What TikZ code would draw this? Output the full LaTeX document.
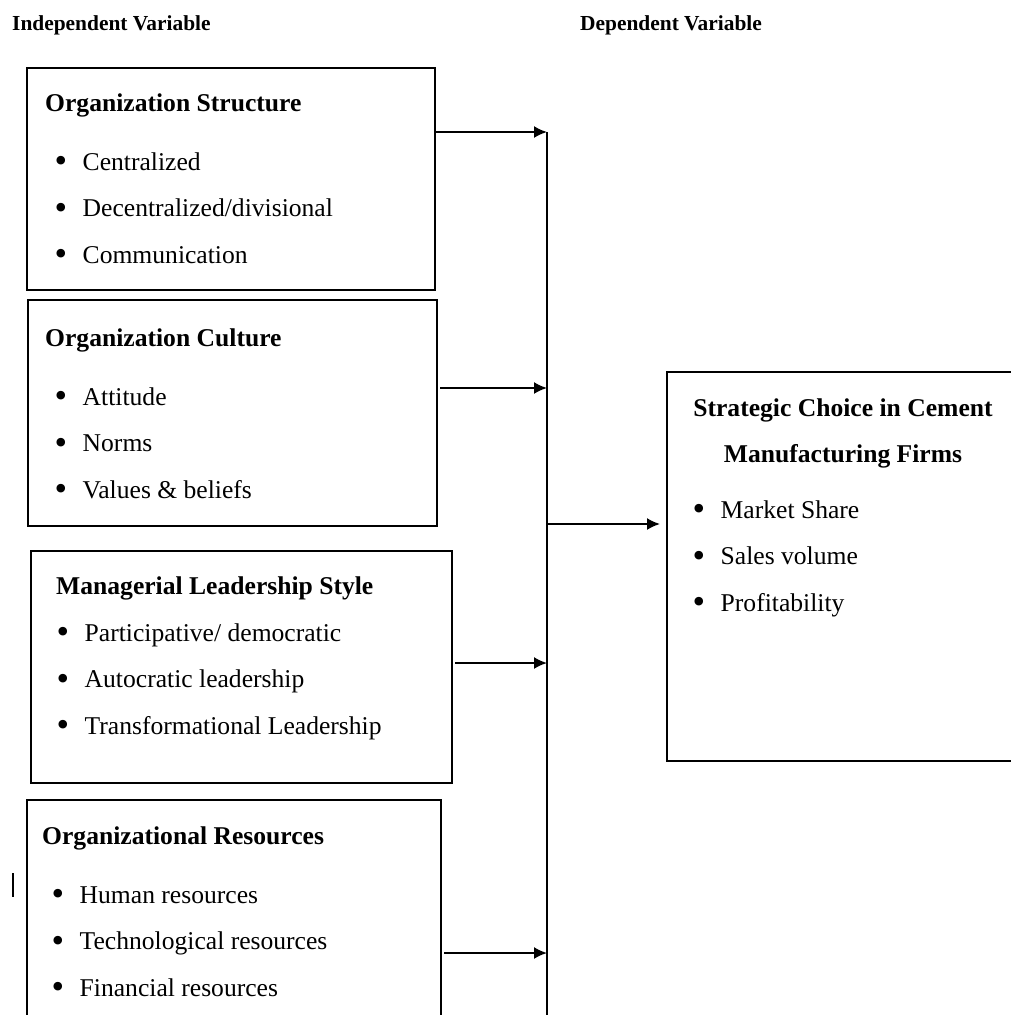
\documentclass[tikz,border=0pt]{standalone}
\usepackage{fontspec}
\setmainfont{Liberation Serif}
\usetikzlibrary{arrows.meta, math}
\tikzset{
box/.style={draw, line width=1.8pt, inner sep=0, outer sep=0, anchor=north west},
body/.style={font=\fontsize{25.6}{46.5}\selectfont, align=left, anchor=base west, inner sep=0},
boxtitle/.style={font=\fontsize{25.6}{46}\selectfont\bfseries, align=center, anchor=base, inner sep=0},
head/.style={font=\fontsize{21.4}{26}\selectfont\bfseries, anchor=base west, inner sep=0},
arr/.style={-{Latex[length=13pt,width=12pt]}, line width=1.8pt, shorten <=3pt},
}
\newcommand{\bitem}[2][10.5pt]{\hspace*{#1}\makebox[27pt][l]{\hspace*{-1pt}\raisebox{-2.6pt}{\scalebox{1.4}{\textbullet}}}#2}

\begin{document}
\begin{tikzpicture}[x=1pt, y=-1pt]
\tikzmath{
\busx=547;
}
\useasboundingbox (0,0) rectangle (1011,1015);

\node[head] (indep) at (12,30) {Independent Variable};
\node[head] (dep) at (580,30) {Dependent Variable};

% boxes are placed at their top-left corner, texts at the baseline of their last line
\node[box, minimum width=408pt, minimum height=222pt] (orgstruct) at (27,68) {};
\node[body] (orgstructtxt) at (45,263) {\textbf{Organization Structure}\\[12pt]
  \bitem{Centralized}\\ \bitem{Decentralized/divisional}\\ \bitem{Communication}};

\node[box, minimum width=409pt, minimum height=226pt] (orgculture) at (28,300) {};
\node[body] (orgculturetxt) at (45,498) {\textbf{Organization Culture}\\[12pt]
  \bitem{Attitude}\\ \bitem{Norms}\\ \bitem{Values \& beliefs}};

\node[box, minimum width=421pt, minimum height=232pt] (leadership) at (31,551) {};
\node[body] (leadershiptxt) at (56,734) {\textbf{Managerial Leadership Style}\\
  \bitem[1.5pt]{Participative/ democratic}\\ \bitem[1.5pt]{Autocratic leadership}\\ \bitem[1.5pt]{Transformational Leadership}};

\node[box, minimum width=414pt, minimum height=240pt] (resources) at (27,800) {};
\node[body] (resourcestxt) at (42,996) {\textbf{Organizational Resources}\\[12pt]
  \bitem{Human resources}\\ \bitem{Technological resources}\\ \bitem{Financial resources}};

\node[box, minimum width=373pt, minimum height=389pt] (choice) at (667,372) {};
\node[boxtitle] (choicetitle) at (843,462) {Strategic Choice in Cement\\Manufacturing Firms};
\node[body] (choicetxt) at (693.5,611) {\bitem[0pt]{Market Share}\\ \bitem[0pt]{Sales volume}\\ \bitem[0pt]{Profitability}};

\coordinate (bustop) at (\busx,132);
\coordinate (busbot) at (\busx,1040);
\coordinate (jculture) at (\busx,388);
\coordinate (jlead) at (\busx,663);
\coordinate (jres) at (\busx,953);
\coordinate (jout) at (\busx,524);

\draw[line width=1.8pt] (bustop) -- (busbot);
\draw[arr, shorten <=0pt] (orgstruct.east |- bustop) -- (bustop);
\draw[arr] (orgculture.east |- jculture) -- (jculture);
\draw[arr] (leadership.east |- jlead) -- (jlead);
\draw[arr] (resources.east |- jres) -- (jres);
\draw[arr, shorten <=0pt, shorten >=7pt] (jout) -- (choice.west |- jout);

\draw[line width=1.2pt] (13,873) -- (13,897);
\end{tikzpicture}
\end{document}
